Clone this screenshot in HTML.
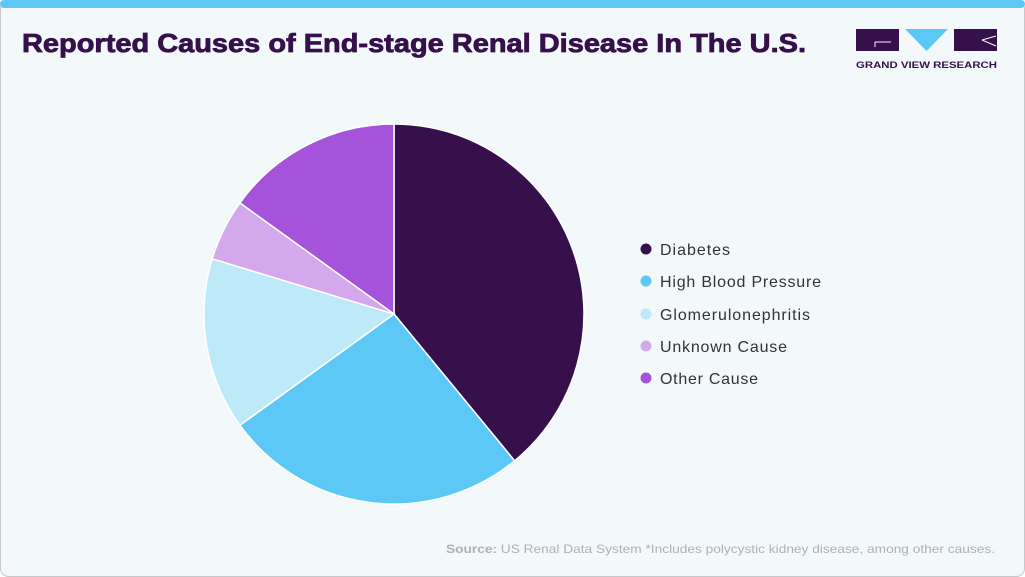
<!DOCTYPE html>
<html><head><meta charset="utf-8"><style>
html,body{margin:0;padding:0;background:#fff;}
svg{display:block;}
</style></head><body>
<svg width="1025" height="577" viewBox="0 0 1025 577" xmlns="http://www.w3.org/2000/svg" font-family="Liberation Sans, sans-serif">
<rect x="0.5" y="0.5" width="1024" height="576" rx="8" fill="#f3f8fb" stroke="#c8c8c8"/>
<rect x="0" y="0" width="1025" height="8" fill="#5bc8f5" rx="4"/>
<text x="22" y="52" font-size="26" font-weight="bold" fill="#36104a" stroke="#36104a" stroke-width="0.8" textLength="784" lengthAdjust="spacingAndGlyphs">Reported Causes of End-stage Renal Disease In The U.S.</text>
<!-- logo -->
<rect x="856" y="29" width="43" height="22" fill="#36104a"/>
<path d="M875 42 H891 M875 42 V47" stroke="#f3f8fb" stroke-width="1" fill="none"/>
<polygon points="905,29 948,29 926.5,51" fill="#5bc8f5"/>
<rect x="954" y="29" width="43" height="22" fill="#36104a"/>
<path d="M982 40 L996 36 M982 40 L996 46" stroke="#f3f8fb" stroke-width="1" fill="none"/>
<text x="856" y="68" font-size="9.5" font-weight="bold" fill="#36104a" textLength="141" lengthAdjust="spacingAndGlyphs">GRAND VIEW RESEARCH</text>
<!-- pie -->
<g stroke="#ffffff" stroke-width="1.5">
<path d="M394,314 L394,124 A190,190 0 0 1 514.6,460.8 Z" fill="#36104a"/>
<path d="M394,314 L514.6,460.8 A190,190 0 0 1 239.9,425.2 Z" fill="#5bc8f5"/>
<path d="M394,314 L239.9,425.2 A190,190 0 0 1 212.2,258.8 Z" fill="#bde9f9"/>
<path d="M394,314 L212.2,258.8 A190,190 0 0 1 239.9,202.9 Z" fill="#d3a8ec"/>
<path d="M394,314 L239.9,202.9 A190,190 0 0 1 394,124 Z" fill="#a653db"/>
</g>
<g font-size="16" fill="#333" lengthAdjust="spacingAndGlyphs">
<circle cx="646" cy="249" r="5.5" fill="#36104a"/><text x="660" y="255" textLength="70">Diabetes</text>
<circle cx="646" cy="281" r="5.5" fill="#5bc8f5"/><text x="660" y="287" textLength="161">High Blood Pressure</text>
<circle cx="646" cy="314" r="5.5" fill="#bde9f9"/><text x="660" y="320" textLength="150">Glomerulonephritis</text>
<circle cx="646" cy="346" r="5.5" fill="#d3a8ec"/><text x="660" y="352" textLength="127">Unknown Cause</text>
<circle cx="646" cy="378" r="5.5" fill="#a653db"/><text x="660" y="384" textLength="98">Other Cause</text>
</g>
<text x="446" y="553" font-size="12" fill="#b0b0b0" textLength="549" lengthAdjust="spacingAndGlyphs"><tspan font-weight="bold">Source:</tspan> US Renal Data System *Includes polycystic kidney disease, among other causes.</text>
</svg>
</body></html>
